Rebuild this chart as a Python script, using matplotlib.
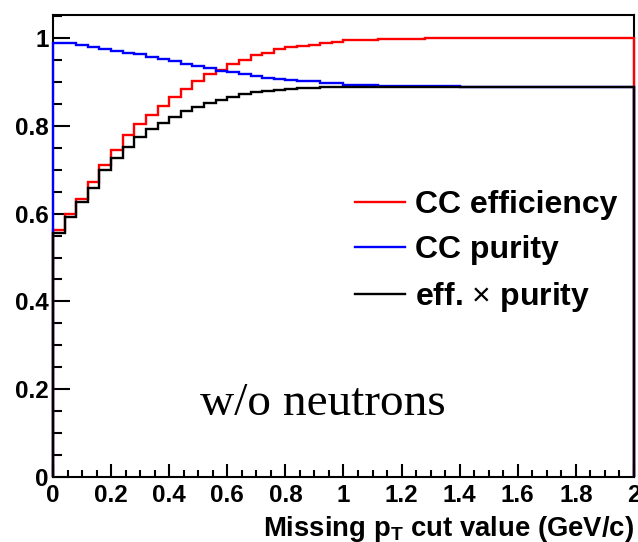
import numpy as np
import matplotlib
matplotlib.use("Agg")
import matplotlib.pyplot as plt
from matplotlib.ticker import MultipleLocator, FuncFormatter

plt.rcParams['font.family'] = ['Liberation Sans', 'DejaVu Sans']
plt.rcParams['mathtext.fontset'] = 'custom'
plt.rcParams['mathtext.bf'] = 'Liberation Sans:bold'
plt.rcParams['mathtext.rm'] = 'Liberation Sans'

# missing pT cut, 50 bins of 0.04 GeV/c from 0 to 2
bin_edges = np.linspace(0.0, 2.0, 51)

cc_efficiency = [
    0.563, 0.600, 0.634, 0.671, 0.711, 0.745, 0.778, 0.803, 0.825, 0.846,
    0.866, 0.885, 0.903, 0.917, 0.928, 0.941, 0.951, 0.961, 0.967, 0.974,
    0.979, 0.982, 0.985, 0.988, 0.992, 0.995, 0.995, 0.995, 0.998, 0.998,
    0.998, 0.998, 1.000, 1.000, 1.000, 1.000, 1.000, 1.000, 1.000, 1.000,
    1.000, 1.000, 1.000, 1.000, 1.000, 1.000, 1.000, 1.000, 1.000, 1.000,
]

cc_purity = [
    0.988, 0.988, 0.984, 0.980, 0.976, 0.971, 0.967, 0.963, 0.957, 0.952,
    0.947, 0.941, 0.936, 0.931, 0.926, 0.922, 0.918, 0.913, 0.910, 0.907,
    0.905, 0.903, 0.902, 0.898, 0.898, 0.894, 0.894, 0.894, 0.891, 0.891,
    0.891, 0.891, 0.891, 0.891, 0.891, 0.888, 0.888, 0.888, 0.888, 0.888,
    0.888, 0.888, 0.888, 0.888, 0.888, 0.888, 0.888, 0.888, 0.888, 0.888,
]

eff_x_purity = [
    0.556, 0.593, 0.626, 0.659, 0.699, 0.726, 0.752, 0.774, 0.792, 0.807,
    0.821, 0.833, 0.843, 0.851, 0.859, 0.866, 0.872, 0.876, 0.879, 0.882,
    0.884, 0.886, 0.887, 0.888, 0.888, 0.888, 0.888, 0.888, 0.888, 0.888,
    0.888, 0.888, 0.888, 0.888, 0.888, 0.888, 0.888, 0.888, 0.888, 0.888,
    0.888, 0.888, 0.888, 0.888, 0.888, 0.888, 0.888, 0.888, 0.888, 0.888,
]

series = [
    (cc_efficiency, '#ff0000', 'CC efficiency'),
    (cc_purity, '#0000ff', 'CC purity'),
    (eff_x_purity, '#000000', r'eff. $\times$ purity'),
]

fig = plt.figure(figsize=(6.38, 5.42), dpi=100)
ax = fig.add_axes([0.0831, 0.1199, 0.9106, 0.8524])

for i, (vals, col, lab) in enumerate(series):
    ax.stairs(vals, bin_edges, baseline=0, color=col, linewidth=1.7,
              label=lab, zorder=3 + i, clip_on=False)

ax.set_xlim(0, 2)
ax.set_ylim(0, 1.0524)

for sp in ax.spines.values():
    sp.set_linewidth(1.5)

ax.xaxis.set_major_locator(MultipleLocator(0.2))
ax.xaxis.set_minor_locator(MultipleLocator(0.05))
ax.yaxis.set_major_locator(MultipleLocator(0.2))
ax.yaxis.set_minor_locator(MultipleLocator(0.05))
fmt = FuncFormatter(lambda v, p: f"{v:g}")
ax.xaxis.set_major_formatter(fmt)
ax.yaxis.set_major_formatter(fmt)

ax.tick_params(axis='y', which='major', direction='in', length=12.5, width=1.5,
               pad=3, labelsize=17.5)
ax.tick_params(axis='y', which='minor', direction='in', length=6.7, width=1.5)
ax.tick_params(axis='x', which='major', direction='in', length=9.4, width=1.5,
               pad=5, labelsize=17.5)
ax.tick_params(axis='x', which='minor', direction='in', length=5, width=1.5)
for t in ax.get_xticklabels() + ax.get_yticklabels():
    t.set_fontweight('bold')

ax.text(0.506, 0.141, 'w/o neutrons', family='Liberation Serif', fontsize=34,
        ha='left', va='baseline')

fig.text(0.9937, 0.011, r'Missing $\mathbf{p_T}$ cut value (GeV/c)',
         ha='right', va='baseline', fontsize=19.8, fontweight='bold')

leg = ax.legend(loc='upper left', bbox_to_anchor=(0.52, 0.621), frameon=False,
                borderaxespad=0, borderpad=0, handlelength=1.56,
                handletextpad=0.31, labelspacing=0.47,
                prop={'family': 'Liberation Sans', 'weight': 'bold', 'size': 23})
for h in leg.get_lines():
    h.set_linewidth(1.7)

fig.savefig('out.png', dpi=100)
